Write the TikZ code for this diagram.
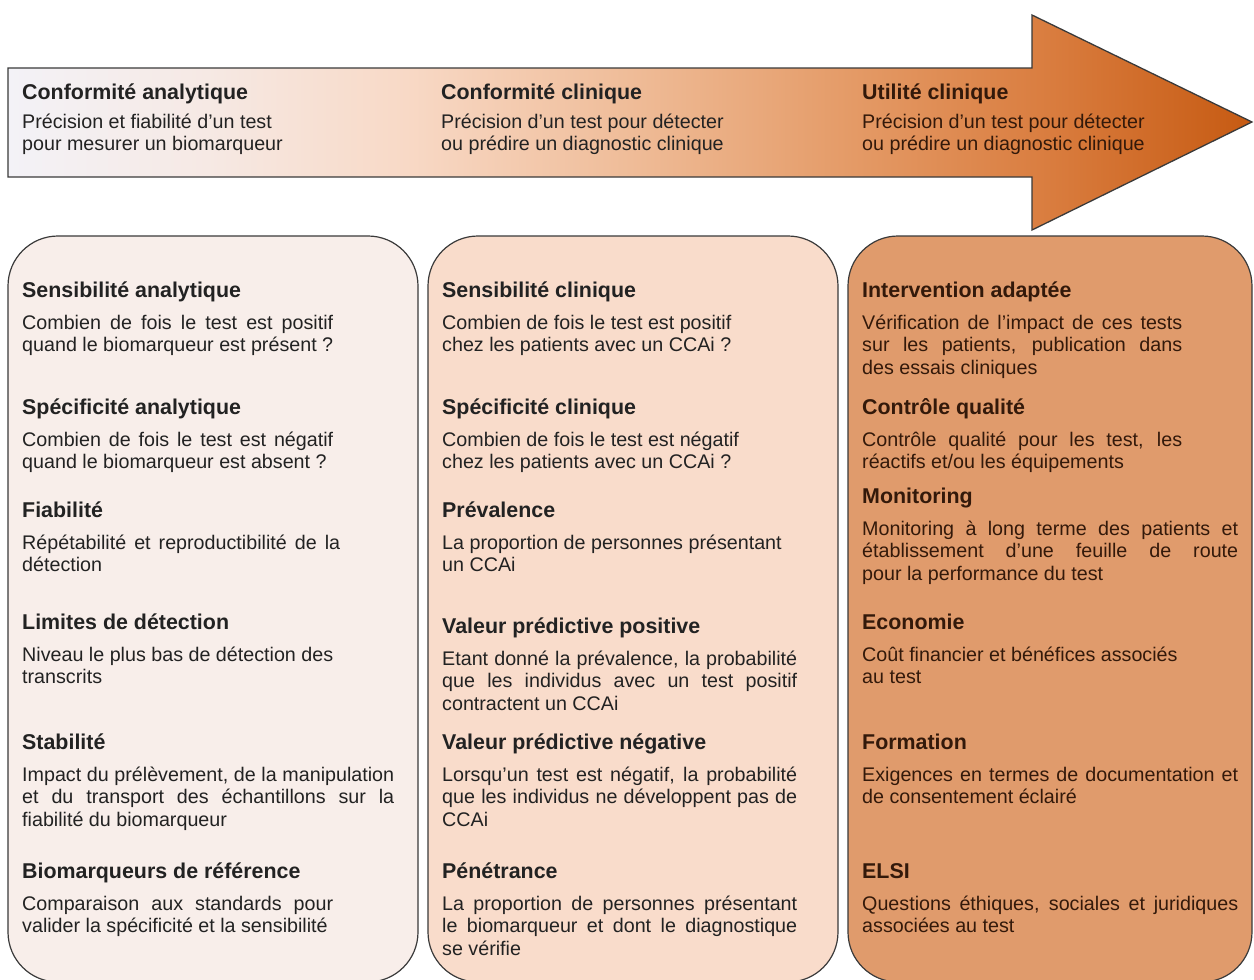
\documentclass[tikz,border=0pt]{standalone}
\usepackage{fontspec}
\setmainfont{Liberation Sans}
\definecolor{boxL}{HTML}{F8EEEA}
\definecolor{boxM}{HTML}{F9DCCB}
\definecolor{boxR}{HTML}{E09B6C}
\definecolor{edge}{HTML}{3A3A3A}
\definecolor{txt}{HTML}{222222}
\definecolor{txtR}{HTML}{33190A}
\definecolor{a0}{HTML}{F3F2F7}
\definecolor{a1}{HTML}{F6E9E4}
\definecolor{a2}{HTML}{F8D9C6}
\definecolor{a3}{HTML}{EFBC98}
\definecolor{a4}{HTML}{E49A66}
\definecolor{a5}{HTML}{D97C3E}
\definecolor{a6}{HTML}{C65A12}
\pgfdeclarehorizontalshading{arrowshade}{100bp}{color(0bp)=(a0); color(25bp)=(a0); color(33bp)=(a1); color(41bp)=(a2); color(50bp)=(a3); color(59bp)=(a4); color(67bp)=(a5); color(75bp)=(a6); color(100bp)=(a6)}
\newcommand{\jl}[2]{\makebox[#1pt][s]{#2}}
\tikzset{
  hd/.style={inner sep=0pt, font=\fontsize{21.4}{25}\selectfont\bfseries, text=txt},
  bd/.style={inner sep=0pt, align=left, font=\fontsize{19.7}{22.5}\selectfont, text=txt},
  panel/.style={draw=edge, line width=1.2pt, rounded corners=50pt},
}
\newcommand{\itm}[6][txt]{%
  \node[hd, text=#1, anchor=base west] (#2h) at (#3,#4+1) {#5};
  \node[bd, text=#1, anchor=north west] (#2b) at (#3,#4+17.5) {\strut #6};
}
\begin{document}
\begin{tikzpicture}[x=1pt,y=-1pt]
\useasboundingbox (0,0) rectangle (1254,980);
\clip (0,0) rectangle (1254,980);
\fill[white] (0,0) rectangle (1254,980);
% arrow
\path[draw=edge, line width=1.3pt, shading=arrowshade, line join=miter]
  (8,68) -- (1032,68) -- (1032,15) -- (1252,122) -- (1032,230) -- (1032,177) -- (8,177) -- cycle;
% panels
\draw[panel, fill=boxL] (8,236) rectangle (418,982);
\draw[panel, fill=boxM] (428,236) rectangle (838,982);
\draw[panel, fill=boxR] (848,236) rectangle (1252,982);
% arrow texts
\node[hd, anchor=base west] (a1h) at (22,99) {Conformité analytique};
\node[bd, anchor=north west] (a1b) at (22,112.25) {\strut Précision et fiabilité d'un test\\pour mesurer un biomarqueur};
\node[hd, anchor=base west] (a2h) at (441,99) {Conformité clinique};
\node[bd, anchor=north west] (a2b) at (441,112.25) {\strut Précision d'un test pour détecter\\ou prédire un diagnostic clinique};
\node[hd, text=txtR, anchor=base west] (a3h) at (862,99) {Utilité clinique};
\node[bd, text=txtR, anchor=north west] (a3b) at (862,112.25) {\strut Précision d'un test pour détecter\\ou prédire un diagnostic clinique};
% left column
\itm{L1}{22}{296}{Sensibilité analytique}{\jl{311}{Combien de fois le test est positif}\\quand le biomarqueur est présent ?}
\itm{L2}{22}{413}{Spécificité analytique}{\jl{311}{Combien de fois le test est négatif}\\quand le biomarqueur est absent ?}
\itm{L3}{22}{516}{Fiabilité}{\jl{318}{Répétabilité et reproductibilité de la}\\détection}
\itm{L4}{22}{628}{Limites de détection}{Niveau le plus bas de détection des\\transcrits}
\itm{L5}{22}{748}{Stabilité}{\jl{372}{Impact du prélèvement, de la manipulation}\\\jl{372}{et du transport des échantillons sur la}\\fiabilité du biomarqueur}
\itm{L6}{22}{877}{Biomarqueurs de référence}{\jl{311}{Comparaison aux standards pour}\\valider la spécificité et la sensibilité}
% middle column
\itm{M1}{442}{296}{Sensibilité clinique}{Combien de fois le test est positif\\chez les patients avec un CCAi ?}
\itm{M2}{442}{413}{Spécificité clinique}{Combien de fois le test est négatif\\chez les patients avec un CCAi ?}
\itm{M3}{442}{516}{Prévalence}{La proportion de personnes présentant\\un CCAi}
\itm{M4}{442}{632}{Valeur prédictive positive}{\jl{355}{Etant donné la prévalence, la probabilité}\\\jl{355}{que les individus avec un test positif}\\contractent un CCAi}
\itm{M5}{442}{748}{Valeur prédictive négative}{\jl{355}{Lorsqu'un test est négatif, la probabilité}\\\jl{355}{que les individus ne développent pas de}\\CCAi}
\itm{M6}{442}{877}{Pénétrance}{\jl{355}{La proportion de personnes présentant}\\\jl{355}{le biomarqueur et dont le diagnostique}\\se vérifie}
% right column
\itm[txtR]{R1}{862}{296}{Intervention adaptée}{\jl{320}{Vérification de l'impact de ces tests}\\\jl{320}{sur les patients, publication dans}\\des essais cliniques}
\itm[txtR]{R2}{862}{413}{Contrôle qualité}{\jl{320}{Contrôle qualité pour les test, les}\\réactifs et/ou les équipements}
\itm[txtR]{R3}{862}{502}{Monitoring}{\jl{376}{Monitoring à long terme des patients et}\\\jl{376}{établissement d'une feuille de route}\\pour la performance du test}
\itm[txtR]{R4}{862}{628}{Economie}{Coût financier et bénéfices associés\\au test}
\itm[txtR]{R5}{862}{748}{Formation}{\jl{376}{Exigences en termes de documentation et}\\de consentement éclairé}
\itm[txtR]{R6}{862}{877}{ELSI}{\jl{376}{Questions éthiques, sociales et juridiques}\\associées au test}
\end{tikzpicture}
\end{document}
